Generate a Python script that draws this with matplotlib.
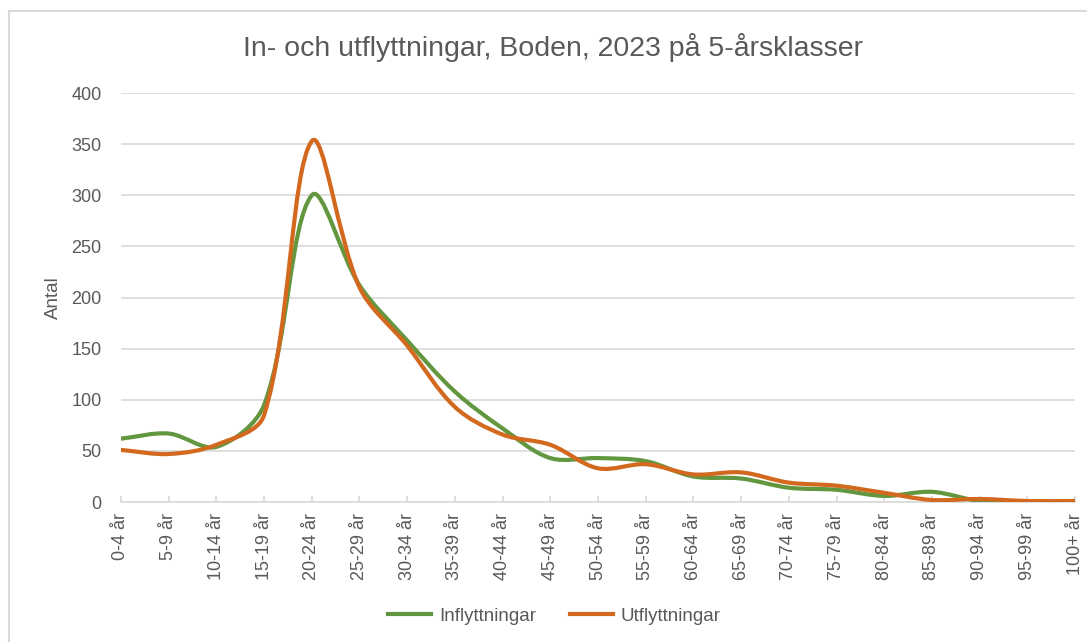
import math
import matplotlib.pyplot as plt
from matplotlib.path import Path
from matplotlib.patches import PathPatch
from matplotlib.lines import Line2D

plt.rcParams['font.family'] = ['Liberation Sans', 'DejaVu Sans']

age_groups = ['0-4 år', '5-9 år', '10-14 år', '15-19 år', '20-24 år', '25-29 år', '30-34 år',
              '35-39 år', '40-44 år', '45-49 år', '50-54 år', '55-59 år', '60-64 år', '65-69 år',
              '70-74 år', '75-79 år', '80-84 år', '85-89 år', '90-94 år', '95-99 år', '100+ år']
inflyttningar = [62, 67, 54, 95, 300, 212, 158, 108, 72, 43, 43, 40, 25, 23, 14, 12, 6, 10, 1, 0, 0]
utflyttningar = [51, 47, 56, 85, 353, 210, 153, 93, 66, 56, 33, 37, 27, 29, 19, 16, 9, 2, 3, 1, 1]

GREEN = '#62973F'
ORANGE = '#D2691F'
GREY = '#595959'

# how many x-category units one y unit is on screen (for the smoothing only)
Y_ASPECT = 1.0225 / 47.7


def smooth_path(xs, ys):
    # Excel-like smoothed line: Bezier segments, control arms scaled by segment lengths
    pts = [(xv, yv * Y_ASPECT) for xv, yv in zip(xs, ys)]
    n = len(pts)
    ctrl_in, ctrl_out = [], []
    for i in range(n):
        p = pts[i]
        a = pts[i - 1] if i > 0 else p
        b = pts[i + 1] if i < n - 1 else p
        tx, ty = b[0] - a[0], b[1] - a[1]
        d1 = math.hypot(p[0] - a[0], p[1] - a[1])
        d2 = math.hypot(b[0] - p[0], b[1] - p[1])
        tot = d1 + d2 if d1 + d2 > 0 else 1
        ctrl_in.append((p[0] - tx * d1 / tot / 3, p[1] - ty * d1 / tot / 3))
        ctrl_out.append((p[0] + tx * d2 / tot / 3, p[1] + ty * d2 / tot / 3))
    verts = [pts[0]]
    codes = [Path.MOVETO]
    for i in range(n - 1):
        verts += [ctrl_out[i], ctrl_in[i + 1], pts[i + 1]]
        codes += [Path.CURVE4] * 3
    verts = [(vx, vy / Y_ASPECT) for vx, vy in verts]
    return Path(verts, codes)


fig = plt.figure(figsize=(10.87, 6.42), dpi=100)
ax = fig.add_axes([0.1113, 0.218, 0.8777, 0.637])

x = list(range(len(age_groups)))
for vals, col in [(inflyttningar, GREEN), (utflyttningar, ORANGE)]:
    patch = PathPatch(smooth_path(x, vals), facecolor='none', edgecolor=col,
                      linewidth=3.0, capstyle='round', joinstyle='round', zorder=3)
    ax.add_patch(patch)

ax.set_xlim(0, len(age_groups) - 1)
ax.set_ylim(0, 400)
ax.set_yticks(range(0, 401, 50))
ax.set_xticks(x)
ax.set_xticklabels(age_groups, rotation=90)
ax.grid(axis='y', color='#D9D9D9', linewidth=1.2)
ax.set_axisbelow(True)
for s in ['top', 'right', 'left']:
    ax.spines[s].set_visible(False)
ax.spines['bottom'].set_color('#D9D9D9')
ax.spines['bottom'].set_linewidth(1.2)
ax.tick_params(axis='y', length=0, pad=14, labelsize=13, labelcolor=GREY)
ax.tick_params(axis='x', direction='in', length=4.5, color='#D9D9D9', width=1.2, pad=8,
               labelsize=13, labelcolor=GREY)
ax.set_ylabel('Antal', fontsize=13.5, color=GREY)
ax.yaxis.set_label_coords(-0.062, 0.5)

fig.suptitle('In- och utflyttningar, Boden, 2023 på 5-årsklasser', x=0.509, y=0.948,
             fontsize=20.5, color=GREY)

handles = [Line2D([], [], color=GREEN, linewidth=3.0),
           Line2D([], [], color=ORANGE, linewidth=3.0)]
fig.legend(handles, ['Inflyttningar', 'Utflyttningar'], loc='center', bbox_to_anchor=(0.51, 0.04),
           ncol=2, frameon=False, fontsize=13.5, labelcolor=GREY, handlelength=2.3,
           handletextpad=0.4, columnspacing=1.8)

# chart area border
fig.add_artist(Line2D([9 / 1087, 9 / 1087], [0, 1 - 11 / 642], color='#D9D9D9', linewidth=1.5))
fig.add_artist(Line2D([9 / 1087, 1], [1 - 11 / 642, 1 - 11 / 642], color='#D9D9D9', linewidth=1.5))

fig.savefig('out.png', dpi=100)
